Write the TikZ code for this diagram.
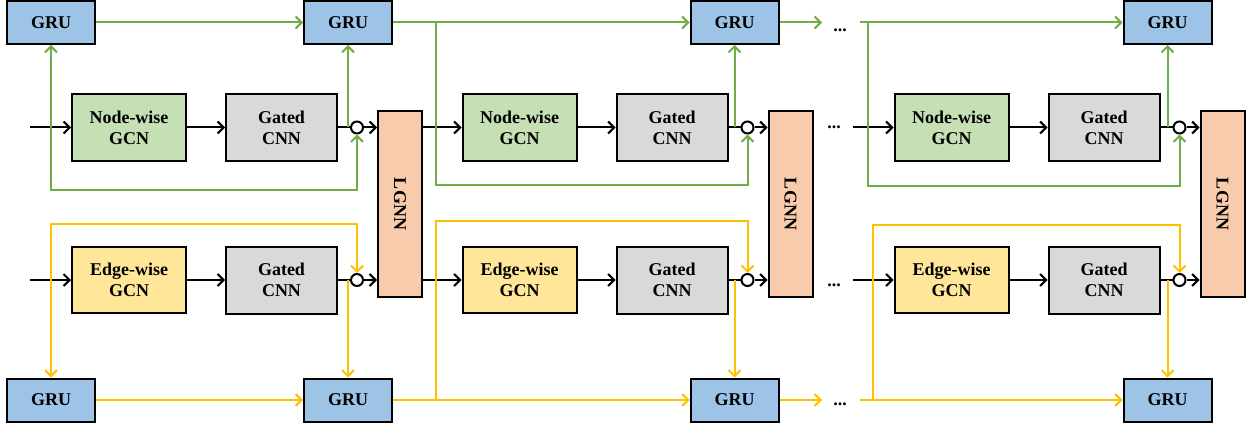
\documentclass[tikz,border=0pt]{standalone}
\usepackage{fontspec}
\setmainfont{Liberation Serif}
\usepackage{graphicx}
\usetikzlibrary{arrows.meta}
\definecolor{grublue}{HTML}{9DC3E6}
\definecolor{nodegreen}{HTML}{C5E0B4}
\definecolor{gatedgray}{HTML}{D9D9D9}
\definecolor{edgeyellow}{HTML}{FFE699}
\definecolor{lgnnorange}{HTML}{F8CBAD}
\definecolor{lgreen}{HTML}{70AD47}
\definecolor{lyellow}{HTML}{FFC000}
\begin{document}
\begin{tikzpicture}[x=1pt,y=-1pt,line width=2pt,
  box/.style={draw,font=\fontsize{18}{21}\selectfont\bfseries,align=center,inner sep=0pt},
  gru/.style={box,fill=grublue,minimum width=88,minimum height=43},
  nodegcn/.style={box,fill=nodegreen,minimum width=114,minimum height=67},
  edgegcn/.style={box,fill=edgeyellow,minimum width=114,minimum height=66},
  gated/.style={box,fill=gatedgray,minimum width=111,minimum height=67},
  lgnn/.style={box,fill=lgnnorange,minimum width=44,minimum height=186},
  junc/.style={circle,draw,fill=white,minimum size=12,inner sep=0pt},
  more/.style={font=\fontsize{18}{21}\selectfont\bfseries,inner sep=0pt},
  arr/.style={-{Straight Barb[length=6pt,width=12pt]}},
  garr/.style={arr,draw=lgreen},
  yarr/.style={arr,draw=lyellow},
  garrs/.style={{Straight Barb[length=6pt,width=12pt]}-{Straight Barb[length=6pt,width=12pt]},draw=lgreen},
  yarrs/.style={{Straight Barb[length=6pt,width=12pt]}-{Straight Barb[length=6pt,width=12pt]},draw=lyellow}]
\useasboundingbox (0,0) rectangle (1253,433);
\node[gru] (gruN0) at (51,22.5) {GRU};
\node[gru] (gruE0) at (51,400) {GRU};
\foreach \i/\o/\g in {1/0/348,2/390.5/734.5,3/822.5/1167.5}{
  \node[nodegcn] (nw\i) at (129+\o,127.5) {Node-wise\\GCN};
  \node[gated] (gN\i) at (281.5+\o,127.5) {Gated\\CNN};
  \node[junc] (oN\i) at (357+\o,127.5) {};
  \node[edgegcn] (ew\i) at (129+\o,280) {Edge-wise\\GCN};
  \node[gated] (gE\i) at (281.5+\o,280) {Gated\\CNN};
  \node[junc] (oE\i) at (357+\o,280) {};
  \node[lgnn] (lgnn\i) at (400+\o,204) {\rotatebox{-90}{LGNN}};
  \node[gru] (gruN\i) at (\g,22.5) {GRU};
  \node[gru] (gruE\i) at (\g,400) {GRU};
  \draw[arr] (nw\i) -- (gN\i);
  \draw (gN\i) -- (oN\i);
  \draw[arr] (oN\i) -- (oN\i -| lgnn\i.west);
  \draw[arr] (ew\i) -- (gE\i);
  \draw (gE\i) -- (oE\i);
  \draw[arr] (oE\i) -- (oE\i -| lgnn\i.west);
  \draw[garr] (gruN\i.south |- gN\i) -- (gruN\i);
  \draw[yarr] (gruE\i.north |- gE\i) -- (gruE\i);
}
\node[more] (moreTop) at (840,30) {...};
\node[more] (moreNode) at (834,127.5) {...};
\node[more] (moreEdge) at (834,285) {...};
\node[more] (moreBot) at (840,404) {...};
\coordinate (inN) at (30,127.5);
\coordinate (inE) at (30,280);
\coordinate (inN3) at (853,127.5);
\coordinate (inE3) at (853,280);
\draw[arr] (inN) -- (nw1);
\draw[arr] (inE) -- (ew1);
\draw[arr] (lgnn1.east |- nw2) -- (nw2);
\draw[arr] (lgnn1.east |- ew2) -- (ew2);
\draw[arr] (inN3) -- (nw3);
\draw[arr] (inE3) -- (ew3);
\coordinate (jN1) at (436,22.5);
\coordinate (lN1) at (436,185);
\coordinate (endN) at (822,22.5);
\coordinate (startN) at (860,22.5);
\coordinate (jN2) at (868,22.5);
\coordinate (lN2) at (868,186);
\coordinate (lN0) at (51,190);
\draw[garr] (gruN0) -- (gruN1);
\draw[garr] (gruN1) -- (gruN2);
\draw[garr] (jN1) -- (lN1) -| (oN2);
\draw[garr] (gruN2) -- (endN);
\draw[garr] (startN) -- (gruN3);
\draw[garr] (jN2) -- (lN2) -| (oN3);
\draw[garrs] (gruN0) -- (lN0) -| (oN1);
\coordinate (jE1) at (436,400);
\coordinate (lE1) at (436,221);
\coordinate (endE) at (822,400);
\coordinate (startE) at (860,400);
\coordinate (jE2) at (873,400);
\coordinate (lE2) at (873,225);
\coordinate (lE0) at (51,224);
\draw[yarr] (gruE0) -- (gruE1);
\draw[yarr] (gruE1) -- (gruE2);
\draw[yarr] (jE1) -- (lE1) -| (oE2);
\draw[yarr] (gruE2) -- (endE);
\draw[yarr] (startE) -- (gruE3);
\draw[yarr] (jE2) -- (lE2) -| (oE3);
\draw[yarrs] (gruE0) -- (lE0) -| (oE1);
\end{tikzpicture}
\end{document}
